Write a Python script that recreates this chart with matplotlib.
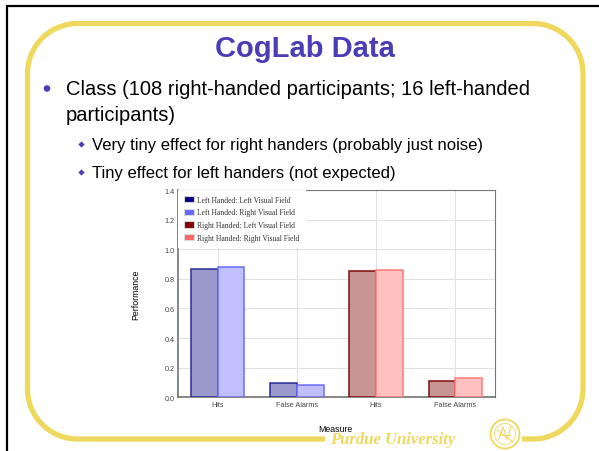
import numpy as np
import matplotlib
matplotlib.use("Agg")
import matplotlib.pyplot as plt
from matplotlib.patches import Patch, Circle

# ---------------- data ----------------
categories = ["Hits", "False Alarms", "Hits", "False Alarms"]
lh_positions = [0, 1]
rh_positions = [2, 3]
lh_lvf = [0.866, 0.097]
lh_rvf = [0.878, 0.081]
rh_lvf = [0.851, 0.110]
rh_rvf = [0.860, 0.128]
series_labels = ["Left Handed: Left Visual Field", "Left Handed: Right Visual Field",
                 "Right Handed: Left Visual Field", "Right Handed: Right Visual Field"]
yticks = [0.0, 0.2, 0.4, 0.6, 0.8, 1.0, 1.2, 1.4]

title = "CogLab Data"
bullet1 = ["Class (108 right-handed participants; 16 left-handed", "participants)"]
sub_bullets = ["Very tiny effect for right handers (probably just noise)",
               "Tiny effect for left handers (not expected)"]

# ---------------- figure ----------------
W, H = 599, 452
fig = plt.figure(figsize=(W / 100, H / 100), dpi=100)
fig.patch.set_facecolor("white")

bg = fig.add_axes([0, 0, 1, 1], zorder=0)
bg.set_xlim(0, W)
bg.set_ylim(H, 0)
bg.axis("off")

yellow = "#eed95e"
purple = "#4a3db5"

# black frame lines
bg.plot([7, 7], [6.5, H], color="black", lw=1.6, solid_capstyle="butt")
bg.plot([6.2, W], [6.5, 6.5], color="black", lw=1.6, solid_capstyle="butt")

# yellow rounded frame with a gap at bottom
x0, x1, y0, y1, r = 27.5, 583.0, 24.5, 440.0, 50.0
def arc(cx, cy, a0, a1, n=30):
    t = np.linspace(np.radians(a0), np.radians(a1), n)
    return list(zip(cx + r * np.cos(t), cy + r * np.sin(t)))
pts = [(325, y1), (x0 + r, y1)]
pts += arc(x0 + r, y1 - r, 90, 180)
pts += [(x0, y0 + r)]
pts += arc(x0 + r, y0 + r, 180, 270)
pts += [(x1 - r, y0)]
pts += arc(x1 - r, y0 + r, 270, 360)
pts += [(x1, y1 - r)]
pts += arc(x1 - r, y1 - r, 0, 90)
pts += [(522, y1)]
xs, ys = zip(*pts)
bg.plot(xs, ys, color=yellow, lw=3.8, solid_capstyle="butt", solid_joinstyle="round")

# title & bullets
bg.text(304.5, 56.7, title, ha="center", va="baseline", fontsize=21,
        fontweight="bold", color=purple, family="Liberation Sans")
b1y, b2y = 95.0, 121.0
bg.add_patch(Circle((47, b1y - 5.5), 3.3, color=purple, ec="none"))
bg.text(66, b1y, bullet1[0], ha="left", va="baseline", fontsize=14.5,
        color="black", family="Liberation Sans")
bg.text(66, b2y, bullet1[1], ha="left", va="baseline", fontsize=14.5,
        color="black", family="Liberation Sans")
for yb in (150.5, 178.5):
    bg.plot([81], [yb - 5.5], marker="D", ms=3.2, color=purple, mec="none")
for s, yb in zip(sub_bullets, (150.5, 178.5)):
    bg.text(91.7, yb, s, ha="left", va="baseline", fontsize=12,
            color="black", family="Liberation Sans")

# Purdue University footer
bg.text(330, 444.5, "Purdue University", ha="left", va="baseline", fontsize=12.0,
        fontweight="bold", fontstyle="italic", color=yellow, family="Liberation Serif")
# seal
bg.add_patch(Circle((505, 435), 14.5, fill=False, ec=yellow, lw=1.3))
bg.add_patch(Circle((505, 435), 10.5, fill=False, ec=yellow, lw=0.6))
bg.plot([497, 513], [431, 443], color=yellow, lw=0.8)
bg.plot([499, 503, 507, 511], [440, 428, 440, 428], color=yellow, lw=0.8)
bg.plot([500, 510], [436, 436], color=yellow, lw=0.6)

# ---------------- chart ----------------
L, R, T, B = 178.0, 495.0, 191.0, 398.3
ax = fig.add_axes([L / W, 1 - B / H, (R - L) / W, (B - T) / H], zorder=2)
ax.set_facecolor("white")
ax.set_xlim(-0.5, 3.5)
ax.set_ylim(0, 1.4)

bw = 0.337
ax.bar(lh_positions, lh_lvf, width=-bw, align="edge", color="#9999cc",
       edgecolor="#2b2b9a", linewidth=1.1, zorder=3)
ax.bar(lh_positions, lh_rvf, width=bw, align="edge", color="#c0c0ff",
       edgecolor="#6b6bff", linewidth=1.1, zorder=3)
ax.bar(rh_positions, rh_lvf, width=-bw, align="edge", color="#c99494",
       edgecolor="#850a0a", linewidth=1.1, zorder=3)
ax.bar(rh_positions, rh_rvf, width=bw, align="edge", color="#ffc0c0",
       edgecolor="#ff7b7b", linewidth=1.1, zorder=3)

ax.set_xticks(range(len(categories)))
ax.set_xticklabels(categories)
ax.set_yticks(yticks)
ax.set_yticklabels([f"{v:.1f}" for v in yticks])
ax.tick_params(axis="both", length=0, labelsize=5.2, labelcolor="#444444",
               labelfontfamily="Liberation Sans")
ax.tick_params(axis="x", pad=3.0)
ax.tick_params(axis="y", pad=2.3)
ax.grid(True, color="#e2e2e2", lw=0.8, zorder=0)
ax.set_axisbelow(True)
for side in ("left", "bottom"):
    ax.spines[side].set_color("#666666")
    ax.spines[side].set_linewidth(1.1)
for side in ("top", "right"):
    ax.spines[side].set_color("#777777")
    ax.spines[side].set_linewidth(0.8)

ax.set_ylabel("Performance", fontsize=6.3, family="Liberation Sans", color="black")
ax.yaxis.set_label_coords(-0.118, 0.5)
ax.set_xlabel("Measure", fontsize=6.3, family="Liberation Sans", color="black")
ax.xaxis.set_label_coords(0.498, -0.15)
ax.xaxis.label.set_va("center")

handles = [Patch(facecolor=c, edgecolor="#d8d8d8", linewidth=0.8)
           for c in ("#000080", "#6666ff", "#800000", "#ff6666")]
leg = ax.legend(handles, series_labels, loc="upper left", bbox_to_anchor=(0, 1),
                prop={"family": "Liberation Serif", "size": 5.5},
                handlelength=1.35, handleheight=0.9, handletextpad=0.45,
                labelspacing=0.62, borderaxespad=0, borderpad=0.75,
                frameon=True, facecolor="white", edgecolor="none", framealpha=1,
                fancybox=False, labelcolor="#333333")
leg.set_zorder(5)

fig.savefig("out.png", dpi=100, facecolor="white")
